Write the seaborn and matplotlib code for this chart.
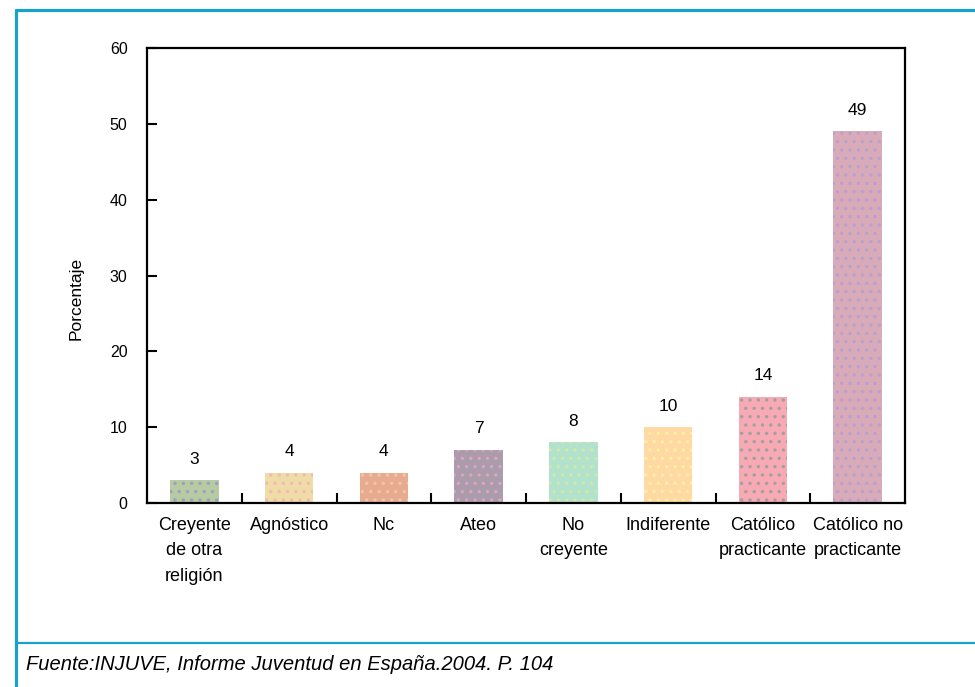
import numpy as np
import pandas as pd
import matplotlib
matplotlib.use("Agg")
import matplotlib.pyplot as plt
from matplotlib.lines import Line2D
import seaborn as sns

# data
categorias = ["Creyente\nde otra\nreligión", "Agnóstico", "Nc", "Ateo",
              "No\ncreyente", "Indiferente", "Católico\npracticante",
              "Católico no\npracticante"]
porcentajes = [3, 4, 4, 7, 8, 10, 14, 49]
etiquetas = ["3", "4", "4", "7", "8", "10", "14", "49"]
colores = ["#b9c9a2", "#f0dca6", "#e8ab92", "#aa9ca8",
           "#b3e2cc", "#ffd9a3", "#f8aab4", "#d9aab8"]
tramas = ["#8fa7c0", "#f3b8b8", "#f0c8a0", "#e0a0d0",
          "#d0e8a8", "#fff0a0", "#a0a0a0", "#b8a0d0"]
fuente = "Fuente:INJUVE, Informe Juventud en España.2004. P. 104"

sns.set_style("white")
plt.rcParams["font.family"] = ["Liberation Sans Narrow", "Liberation Sans", "DejaVu Sans"]
plt.rcParams["hatch.linewidth"] = 1.2
plt.rcParams["text.color"] = "black"
plt.rcParams["axes.labelcolor"] = "black"
plt.rcParams["xtick.color"] = "black"
plt.rcParams["ytick.color"] = "black"

df = pd.DataFrame({"cat": categorias, "val": porcentajes})

fig = plt.figure(figsize=(9.75, 6.87), dpi=100)
ax = fig.add_axes([0.1508, 0.2678, 0.7774, 0.6623])

sns.barplot(data=df, x="cat", y="val", hue="cat", palette=colores,
            legend=False, width=0.51, ax=ax, saturation=1)

for p, tc in zip(ax.patches, tramas):
    p.set_hatch("..")
    p.set_edgecolor(tc)
    p.set_linewidth(0)

for i, (v, t) in enumerate(zip(porcentajes, etiquetas)):
    ax.text(i, v + 1.8, t, ha="center", va="bottom", fontsize=12.5)

ax.set_xlim(-0.5, 7.5)
ax.set_ylim(0, 60)
ax.set_yticks(range(0, 61, 10))
ax.set_xticks(range(len(categorias)))
ax.set_xticklabels(categorias, fontsize=13, linespacing=1.65, va="top")
ax.set_xticks(np.arange(0.5, 7, 1), minor=True)
ax.tick_params(axis="x", which="major", length=0, pad=10)
ax.tick_params(axis="x", which="minor", length=7, width=1.5, direction="in", bottom=True)
ax.tick_params(axis="y", length=7, width=1.5, direction="in", labelsize=11.5, pad=14, left=True)
ax.set_xlabel("")
ax.set_ylabel("Porcentaje", fontsize=12.5)
ax.yaxis.set_label_coords(-0.083, 0.45)

for s in ax.spines.values():
    s.set_visible(True)
    s.set_color("black")
    s.set_linewidth(1.6)

# blue frame of the page
azul = "#17a2cc"
fig.add_artist(Line2D([16 / 975, 16 / 975], [0, 1 - 10 / 687], color=azul, lw=2.3,
                      transform=fig.transFigure))
fig.add_artist(Line2D([16 / 975, 1], [1 - 10 / 687, 1 - 10 / 687], color=azul, lw=2.3,
                      transform=fig.transFigure))
fig.add_artist(Line2D([16 / 975, 1], [1 - 643 / 687, 1 - 643 / 687], color=azul, lw=1.6,
                      transform=fig.transFigure))

fig.text(26 / 975, 1 - 665 / 687, fuente, fontsize=14.5, style="italic", va="center",
         family=["Liberation Sans", "DejaVu Sans"], color="black")

fig.savefig("out.png", dpi=100)
